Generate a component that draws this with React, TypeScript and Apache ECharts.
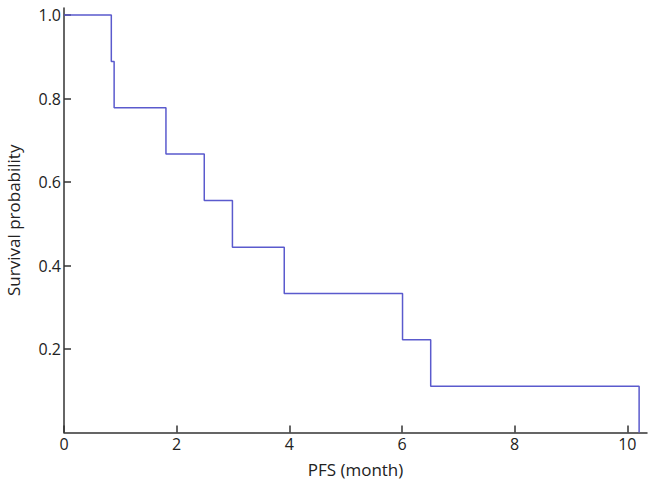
import React, { useEffect, useRef } from "react";
import * as echarts from "echarts";

const times = [0, 0.84, 0.89, 1.81, 2.49, 2.99, 3.91, 6.01, 6.51, 10.21];
const survival = [1.0, 0.889, 0.778, 0.667, 0.556, 0.444, 0.333, 0.222, 0.111, 0];
const xTickLabels = [0, 2, 4, 6, 8, 10];
const yTickLabels = [0.2, 0.4, 0.6, 0.8, 1.0];

export default function App() {
  const ref = useRef<HTMLDivElement>(null);
  useEffect(() => {
    document.body.style.margin = "0";
    if (!ref.current) return;
    const chart = echarts.init(ref.current, null, { renderer: "svg" });
    const font = "'Open Sans', 'Noto Sans', sans-serif";
    chart.setOption({
      animation: false,
      backgroundColor: "#ffffff",
      grid: {
        left: 64,
        right: 4,
        top: 8,
        bottom: 49.5,
        containLabel: false,
        outerBoundsMode: "none",
      },
      xAxis: {
        type: "value",
        min: 0,
        max: 10.35,
        name: "PFS (month)",
        nameLocation: "middle",
        nameGap: 28,
        nameTextStyle: { fontFamily: font, fontSize: 17, color: "#222" },
        splitLine: { show: false },
        axisLine: { lineStyle: { color: "#333", width: 1.5 } },
        axisTick: {
          inside: true,
          length: 7,
          customValues: xTickLabels,
          lineStyle: { color: "#333", width: 1.5 },
        },
        axisLabel: {
          customValues: xTickLabels,
          fontFamily: font,
          fontSize: 16,
          color: "#222",
          margin: 3,
        },
      },
      yAxis: {
        type: "value",
        min: 0,
        max: 1.017,
        name: "Survival probability",
        nameLocation: "middle",
        nameGap: 42,
        nameTextStyle: { fontFamily: font, fontSize: 17, color: "#222" },
        splitLine: { show: false },
        axisLine: { lineStyle: { color: "#333", width: 1.5 } },
        axisTick: {
          inside: true,
          length: 7,
          customValues: yTickLabels,
          lineStyle: { color: "#333", width: 1.5 },
        },
        axisLabel: {
          customValues: yTickLabels,
          formatter: (v: number) => v.toFixed(1),
          fontFamily: font,
          fontSize: 16,
          color: "#222",
          margin: 3,
        },
      },
      series: [
        {
          type: "line",
          step: "end",
          data: times.map((t, i) => [t, survival[i]]),
          showSymbol: false,
          symbol: "none",
          lineStyle: { color: "#5a5acd", width: 1.5 },
        },
      ],
    });
    return () => chart.dispose();
  }, []);
  return <div ref={ref} style={{ width: 651, height: 482 }} />;
}
